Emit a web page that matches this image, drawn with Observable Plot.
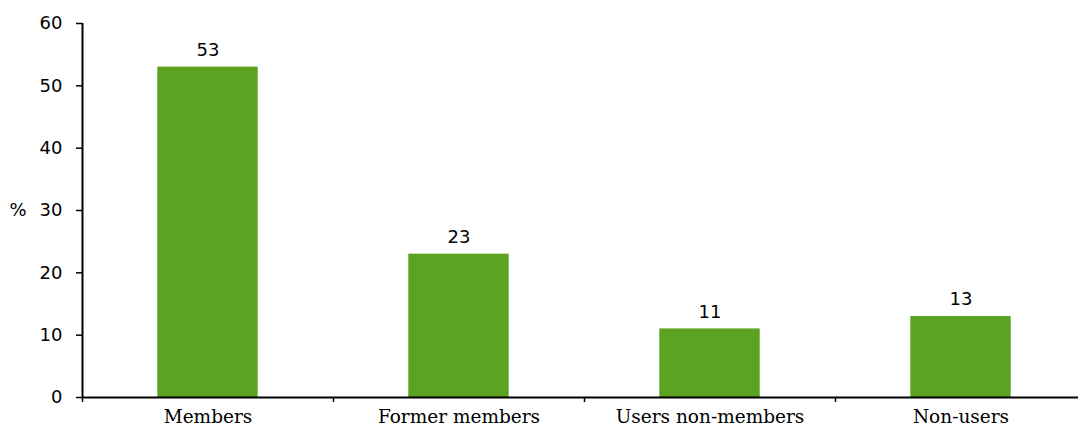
<!DOCTYPE html>
<html>
<head>
<meta charset="utf-8">
<script src="https://cdn.jsdelivr.net/npm/d3@7"></script>
<script src="https://cdn.jsdelivr.net/npm/@observablehq/plot@0.6"></script>
<style>
  html, body { margin: 0; padding: 0; background: #fff; }
</style>
</head>
<body>
<div id="chart"></div>
<script>
const categories = ["Members", "Former members", "Users non-members", "Non-users"];
const values = [53, 23, 11, 13];
const yTicks = [0, 10, 20, 30, 40, 50, 60];

const data = categories.map((c, i) => ({category: c, i, value: values[i]}));
const sans = "'DejaVu Sans', sans-serif";
const serif = "'DejaVu Serif', serif";

const chart = Plot.plot({
  width: 1078,
  height: 430,
  marginLeft: 82,
  marginRight: 0,
  marginTop: 23,
  marginBottom: 33,
  style: {fontFamily: sans, fontSize: "18px", color: "#000", background: "#fff"},
  x: {type: "linear", domain: [0, categories.length], range: [82, 1086]},
  y: {domain: [0, 60]},
  marks: [
    Plot.rectY(data, {x1: d => d.i + 0.3, x2: d => d.i + 0.7, y: "value", fill: "#5ba321"}),
    Plot.text(data, {x: d => d.i + 0.5, y: "value", text: d => String(d.value), dy: -17, fontSize: 18, fontFamily: sans, fill: "#000"}),
    Plot.axisY({ticks: yTicks, tickSize: 6, tickPadding: 14, label: null, fontSize: 18, fontFamily: sans, stroke: "#000", strokeWidth: 1.5}),
    Plot.axisX({ticks: [0, 1, 2, 3, 4], tickSize: 5, tickFormat: () => "", label: null, stroke: "#000", strokeWidth: 1.5}),
    Plot.axisX({ticks: categories.map((c, i) => i + 0.5), tickSize: 0, tickPadding: 12, tickFormat: v => categories[Math.round(v - 0.5)], label: null, fontSize: 18.5, fontFamily: serif}),
    Plot.ruleX([0], {y1: 0, y2: 60, stroke: "#000", strokeWidth: 2}),
    Plot.ruleY([0], {stroke: "#000", strokeWidth: 2}),
    Plot.text(["%"], {frameAnchor: "left", dx: -56, dy: 0, textAnchor: "end", fontSize: 18, fontFamily: sans, fill: "#000"})
  ]
});
document.getElementById("chart").appendChild(chart);
</script>
</body>
</html>
